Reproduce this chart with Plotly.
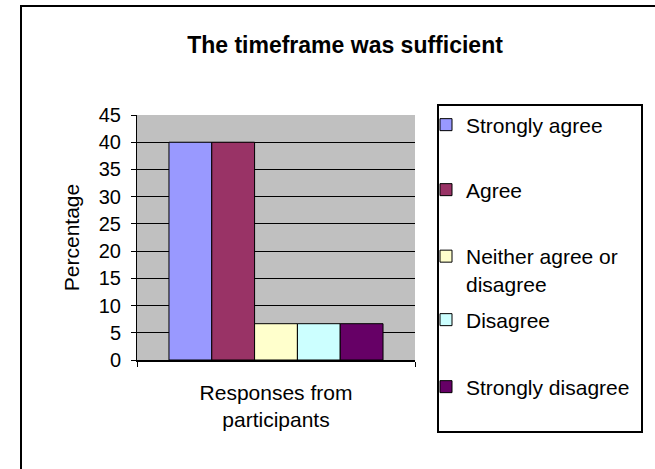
import plotly.graph_objects as go

title_text = "The timeframe was sufficient"
category = ["Responses from participants"]
series_names = ["Strongly agree", "Agree", "Neither agree or<br>disagree", "Disagree", "Strongly disagree"]
series_values = [40, 40, 6.67, 6.67, 6.67]
series_colors = ["#9999FF", "#993366", "#FFFFCC", "#CCFFFF", "#660066"]
y_ticks = [0, 5, 10, 15, 20, 25, 30, 35, 40, 45]

W, H = 655, 469
L, R, T, B = 137, 415, 115, 360  # plot area in px


def px_x(p):
    return (p - L) / (R - L)


def px_y(p):
    return (B - p) / (B - T)


FONT = "Liberation Sans, Arial, sans-serif"

fig = go.Figure()
legend_rows = [125, 190, 270, 320, 387]
for i, (n, v, c) in enumerate(zip(series_names, series_values, series_colors)):
    lg = "legend" if i == 0 else f"legend{i+1}"
    fig.add_trace(go.Bar(
        x=category, y=[v], name=n, legend=lg, showlegend=True,
        marker=dict(color=c, line=dict(color="black", width=1)),
        hoverinfo="name+y",
    ))

layout_legends = {}
for i, row in enumerate(legend_rows):
    key = "legend" if i == 0 else f"legend{i+1}"
    layout_legends[key] = dict(
        x=px_x(426), xanchor="left", y=px_y(row), yanchor="middle",
        bgcolor="rgba(0,0,0,0)", borderwidth=0, valign="top",
        font=dict(family=FONT, size=21, color="black"),
    )

fig.update_layout(
    width=W, height=H,
    margin=dict(l=L, r=W - R, t=T, b=H - B, pad=0),
    paper_bgcolor="white", plot_bgcolor="#C0C0C0",
    showlegend=True,
    barmode="group", bargap=0.23, bargroupgap=0,
    title=dict(text=title_text, x=345 / W, xanchor="center", y=1 - 45 / H, yanchor="middle",
               xref="container", yref="container",
               font=dict(family=FONT, size=23, color="black", weight="bold")),
    font=dict(family=FONT, color="black"),
    **layout_legends,
    shapes=[
        dict(type="rect", xref="paper", yref="paper",
             x0=px_x(21), x1=px_x(720), y0=px_y(540), y1=px_y(6),
             line=dict(color="black", width=2), fillcolor="rgba(0,0,0,0)", layer="below"),
        dict(type="rect", xref="paper", yref="paper",
             x0=px_x(438), x1=px_x(642), y0=px_y(432), y1=px_y(105),
             line=dict(color="black", width=2), fillcolor="rgba(0,0,0,0)"),
    ],
)

fig.update_yaxes(
    range=[0, 45], tickvals=y_ticks, ticktext=[str(t) for t in y_ticks],
    showgrid=True, gridcolor="black", gridwidth=1,
    showline=True, linecolor="black", linewidth=1,
    ticks="outside", ticklen=5, tickcolor="black", ticklabelstandoff=6,
    tickfont=dict(family=FONT, size=20, color="black"),
    title=dict(text="Percentage", font=dict(family=FONT, size=21, color="black"), standoff=13),
    zeroline=False,
)
fig.update_xaxes(
    type="category", range=[-0.5, 0.5],
    showticklabels=False, ticks="outside", tickson="boundaries", ticklen=5, tickcolor="black",
    showline=True, linecolor="black", linewidth=2, showgrid=False,
    title=dict(text="Responses from<br>participants", font=dict(family=FONT, size=21, color="black"), standoff=24),
)

fig.write_html("out.html", config={"displayModeBar": False},
               post_script="document.body.style.margin='0px';")
